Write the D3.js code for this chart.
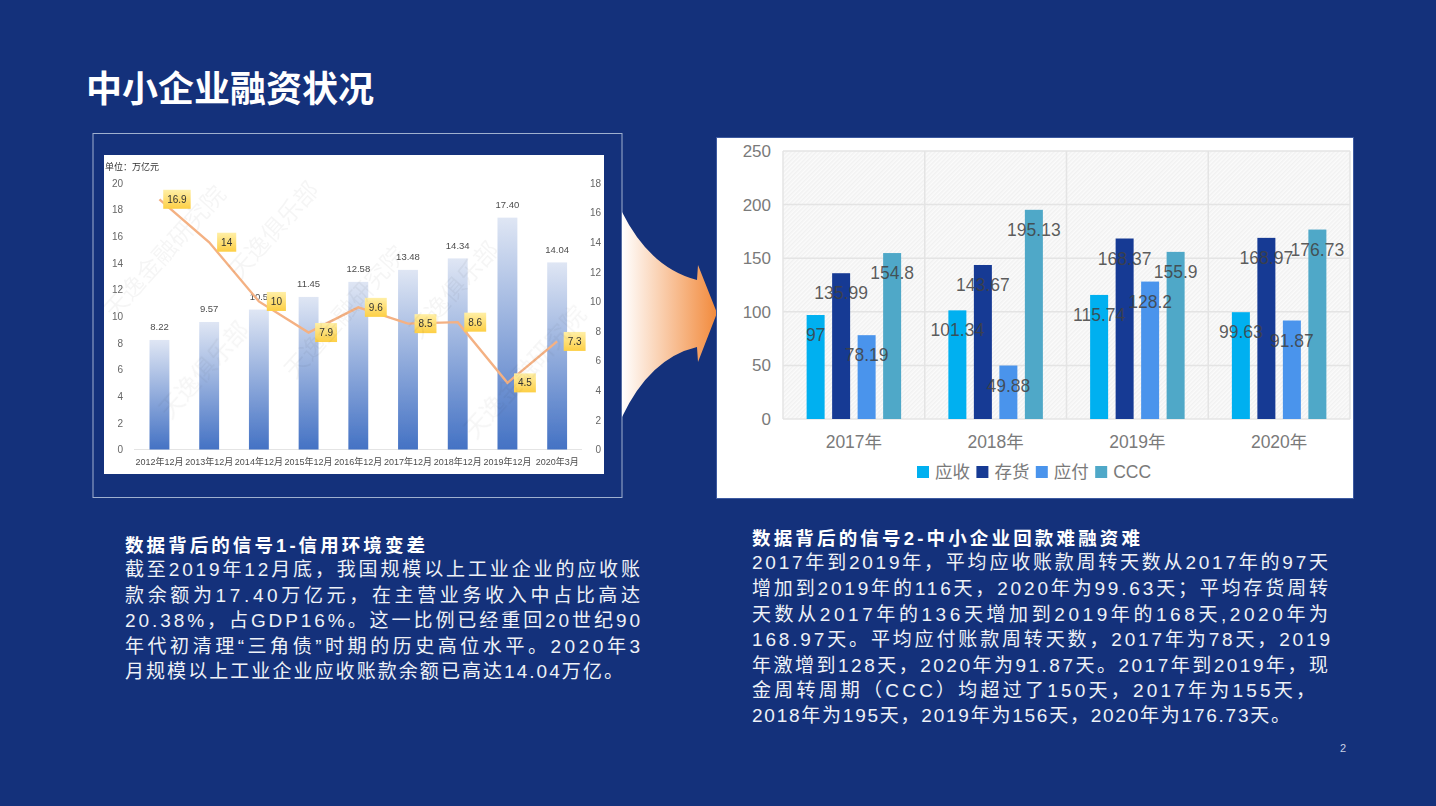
<!DOCTYPE html>
<html>
<head>
<meta charset="utf-8">
<script src="https://cdn.jsdelivr.net/npm/d3@7"></script>
<style>
  html, body { margin: 0; padding: 0; background: #14317b; }
  svg { display: block; }
  text { font-family: "Liberation Sans", "Noto Sans CJK SC", sans-serif; }
  .cjk { font-family: "Noto Sans CJK SC", sans-serif; }
  .domain { display: none; }
</style>
</head>
<body>
<svg id="chart" width="1436" height="806"></svg>
<script>
// Left chart data
var months = ["2012年12月", "2013年12月", "2014年12月", "2015年12月", "2016年12月", "2017年12月", "2018年12月", "2019年12月", "2020年3月"];
var balance = [8.22, 9.57, 10.5, 11.45, 12.58, 13.48, 14.34, 17.40, 14.04];
var balanceLabels = ["8.22", "9.57", "10.5", "11.45", "12.58", "13.48", "14.34", "17.40", "14.04"];
var ratio = [16.9, 14, 10, 7.9, 9.6, 8.5, 8.6, 4.5, 7.3];
var leftTicks = [0, 2, 4, 6, 8, 10, 12, 14, 16, 18, 20];
var rightTicks = [0, 2, 4, 6, 8, 10, 12, 14, 16, 18];

// Right chart data
var years = ["2017年", "2018年", "2019年", "2020年"];
var seriesNames = ["应收", "存货", "应付", "CCC"];
var receivable = [97, 101.34, 115.74, 99.63];
var inventory = [135.99, 143.67, 168.37, 168.97];
var payable = [78.19, 49.88, 128.2, 91.87];
var ccc = [154.8, 195.13, 155.9, 176.73];
var dayTicks = [0, 50, 100, 150, 200, 250];

// Slide text
var leftHeading = "数据背后的信号1-信用环境变差";
var leftLines = [
  "截至2019年12月底，我国规模以上工业企业的应收账",
  "款余额为17.40万亿元，在主营业务收入中占比高达",
  "20.38%，占GDP16%。这一比例已经重回20世纪90",
  "年代初清理“三角债”时期的历史高位水平。2020年3",
  "月规模以上工业企业应收账款余额已高达14.04万亿。"
];
var rightHeading = "数据背后的信号2-中小企业回款难融资难";
var rightLines = [
  "2017年到2019年，平均应收账款周转天数从2017年的97天",
  "增加到2019年的116天，2020年为99.63天；平均存货周转",
  "天数从2017年的136天增加到2019年的168天,2020年为",
  "168.97天。平均应付账款周转天数，2017年为78天，2019",
  "年激增到128天，2020年为91.87天。2017年到2019年，现",
  "金周转周期（CCC）均超过了150天，2017年为155天，",
  "2018年为195天，2019年为156天，2020年为176.73天。"
];

var svg = d3.select("#chart");
var defs = svg.append("defs");

svg.append("rect").attr("width", 1436).attr("height", 806).attr("fill", "#14317b");

svg.append("text")
  .attr("class", "cjk")
  .attr("x", 86).attr("y", 102)
  .attr("font-size", 36).attr("font-weight", 700)
  .attr("fill", "#fff")
  .text("中小企业融资状况");

/* gradients, hatch */
var barGrad = defs.append("linearGradient").attr("id", "barGrad")
  .attr("x1", 0).attr("y1", 0).attr("x2", 0).attr("y2", 1);
barGrad.append("stop").attr("offset", "0%").attr("stop-color", "#dfe6f4");
barGrad.append("stop").attr("offset", "100%").attr("stop-color", "#4472c4");

var tagGrad = defs.append("linearGradient").attr("id", "tagGrad")
  .attr("x1", 0).attr("y1", 0).attr("x2", 0).attr("y2", 1);
tagGrad.append("stop").attr("offset", "0%").attr("stop-color", "#ffefa6");
tagGrad.append("stop").attr("offset", "100%").attr("stop-color", "#fdcf45");

var arrowGrad = defs.append("linearGradient").attr("id", "arrowGrad");
arrowGrad.append("stop").attr("offset", "0%").attr("stop-color", "#ffffff");
arrowGrad.append("stop").attr("offset", "100%").attr("stop-color", "#f28a3c");

var hatch = defs.append("pattern").attr("id", "hatch")
  .attr("width", 3).attr("height", 3)
  .attr("patternUnits", "userSpaceOnUse")
  .attr("patternTransform", "rotate(45)");
hatch.append("rect").attr("width", 3).attr("height", 3).attr("fill", "#fbfbfb");
hatch.append("rect").attr("width", 1.5).attr("height", 3).attr("fill", "#f1f1f1");

defs.append("filter").attr("id", "soft")
  .append("feGaussianBlur").attr("stdDeviation", 0.45);

/*
  LEFT CHART: bars on the left axis, line on the right axis
*/
svg.append("rect")
  .attr("x", 93).attr("y", 133.5).attr("width", 529).attr("height", 364)
  .attr("fill", "none").attr("stroke", "#9fb0cf").attr("stroke-width", 1);

var left = svg.append("g").attr("filter", "url(#soft)");

left.append("rect")
  .attr("x", 104).attr("y", 155).attr("width", 500).attr("height", 319)
  .attr("fill", "#fff");

var xMonth = d3.scaleBand().domain(months).range([134.6, 582])
  .paddingInner(0.6).paddingOuter(0.3);
var yBalance = d3.scaleLinear().domain([0, 20]).range([449.5, 183]);
var yRatio = d3.scaleLinear().domain([0, 18]).range([449.5, 183]);

left.append("line")
  .attr("x1", 134).attr("x2", 582)
  .attr("y1", yBalance(0)).attr("y2", yBalance(0))
  .attr("stroke", "#e4e4e4");

left.append("g")
  .attr("transform", "translate(123,0)")
  .call(d3.axisLeft(yBalance).tickValues(leftTicks).tickSize(0).tickPadding(0))
  .selectAll("text")
    .attr("font-size", 10).attr("fill", "#666")
    .style("font-family", "Liberation Sans");

left.append("g")
  .attr("transform", "translate(601,0)")
  .call(d3.axisLeft(yRatio).tickValues(rightTicks).tickSize(0).tickPadding(0))
  .selectAll("text")
    .attr("font-size", 10).attr("fill", "#666")
    .style("font-family", "Liberation Sans");

left.append("g")
  .attr("transform", "translate(0,455)")
  .call(d3.axisBottom(xMonth).tickSize(0).tickPadding(4))
  .selectAll("text")
    .attr("font-size", 9).attr("fill", "#4d4d4d")
    .style("font-family", "Liberation Sans, Noto Sans CJK SC");

left.append("text")
  .attr("class", "cjk")
  .attr("x", 105).attr("y", 170)
  .attr("font-size", 9).attr("fill", "#333")
  .text("单位：万亿元");

left.selectAll("rect.bar")
  .data(balance)
  .enter().append("rect")
    .attr("class", "bar")
    .attr("x", function(d, i) { return xMonth(months[i]); })
    .attr("y", function(d) { return yBalance(d); })
    .attr("width", xMonth.bandwidth())
    .attr("height", function(d) { return yBalance(0) - yBalance(d); })
    .attr("fill", "url(#barGrad)");

left.selectAll("text.barLabel")
  .data(balance)
  .enter().append("text")
    .attr("class", "barLabel")
    .attr("x", function(d, i) { return xMonth(months[i]) + xMonth.bandwidth() / 2; })
    .attr("y", function(d) { return yBalance(d) - 9.5; })
    .attr("text-anchor", "middle")
    .attr("font-size", 9.5).attr("fill", "#4d4d4d")
    .text(function(d, i) { return balanceLabels[i]; });

var ratioLine = d3.line()
  .x(function(d, i) { return xMonth(months[i]) + xMonth.bandwidth() / 2; })
  .y(function(d) { return yRatio(d); });

left.append("path")
  .datum(ratio)
  .attr("d", ratioLine)
  .attr("fill", "none")
  .attr("stroke", "#f4b183")
  .attr("stroke-width", 2.4);

// Yellow tags sit to the right of each line point
var tag = left.selectAll("g.tag")
  .data(ratio)
  .enter().append("g")
    .attr("class", "tag")
    .attr("transform", function(d, i) {
      return "translate(" + (xMonth(months[i]) + xMonth.bandwidth() / 2 + 17.5) + "," + yRatio(d) + ")";
    });
tag.append("text")
  .attr("text-anchor", "middle")
  .attr("dy", "0.35em")
  .attr("font-size", 10).attr("fill", "#333")
  .text(function(d) { return d; });
tag.each(function() {
  var g = d3.select(this);
  var w = g.select("text").node().getComputedTextLength() + 8;
  g.insert("rect", "text")
    .attr("x", -w / 2).attr("y", -9.5)
    .attr("width", w).attr("height", 19)
    .attr("fill", "url(#tagGrad)");
});

// Watermark over the picture, only the ones that fit inside it
var marks = left.append("g");
var markNames = ["天逸俱乐部", "天逸金融研究院"];
for (var row = 0; row < 7; row++) {
  for (var col = 0; col < 7; col++) {
    var name = markNames[(row + col) % 2];
    var len = name.length * 24;
    var mx = 60 + col * 125 + row * 55;
    var my = 220 + row * 100 - col * 40;
    if (mx < 108 || my > 470 || mx + len * 0.67 > 600 || my - len * 0.74 < 158) continue;
    marks.append("text")
      .attr("class", "cjk")
      .attr("transform", "translate(" + mx + "," + my + ") rotate(-48)")
      .attr("font-size", 24)
      .attr("fill", "#000").attr("fill-opacity", 0.04)
      .text(name);
  }
}

/*
  ARROW between the two charts
*/
var arrowPath = d3.path();
arrowPath.moveTo(622, 212);
arrowPath.quadraticCurveTo(650, 268, 697, 280);
arrowPath.lineTo(698, 265);
arrowPath.lineTo(717, 313);
arrowPath.lineTo(698, 362);
arrowPath.lineTo(697, 347);
arrowPath.quadraticCurveTo(650, 358, 622, 417);
arrowPath.closePath();
svg.append("path").attr("d", arrowPath.toString()).attr("fill", "url(#arrowGrad)");

/*
  RIGHT CHART: grouped bars
*/
svg.append("rect")
  .attr("x", 716.5).attr("y", 137.5).attr("width", 637).attr("height", 361)
  .attr("fill", "#fff").attr("stroke", "#3d5aa0").attr("stroke-width", 1);

var plot = {left: 783, right: 1350, top: 151, bottom: 419};
var xYear = d3.scaleBand().domain(years).range([plot.left, plot.right]);
var xSeries = d3.scaleBand().domain(seriesNames)
  .range([xYear.bandwidth() / 2 - 51, xYear.bandwidth() / 2 + 51])
  .paddingInner(0.294).paddingOuter(0.147);
var yDays = d3.scaleLinear().domain([0, 250]).range([plot.bottom, plot.top]);
var seriesColors = d3.scaleOrdinal().domain(seriesNames)
  .range(["#00b0f0", "#163a94", "#4a94ec", "#4fa8c8"]);
var seriesValues = [receivable, inventory, payable, ccc];

svg.append("rect")
  .attr("x", plot.left).attr("y", plot.top)
  .attr("width", plot.right - plot.left).attr("height", plot.bottom - plot.top)
  .attr("fill", "url(#hatch)");

// Gridlines, horizontal and between the categories
svg.selectAll("line.hgrid")
  .data(dayTicks)
  .enter().append("line")
    .attr("class", "hgrid")
    .attr("x1", plot.left).attr("x2", plot.right)
    .attr("y1", function(d) { return yDays(d); })
    .attr("y2", function(d) { return yDays(d); })
    .attr("stroke", "#e4e4e4").attr("stroke-width", 1.5);
svg.selectAll("line.vgrid")
  .data(years.concat(["end"]))
  .enter().append("line")
    .attr("class", "vgrid")
    .attr("x1", function(d, i) { return plot.left + i * xYear.step(); })
    .attr("x2", function(d, i) { return plot.left + i * xYear.step(); })
    .attr("y1", plot.top).attr("y2", plot.bottom)
    .attr("stroke", "#e4e4e4").attr("stroke-width", 1.5);

svg.append("g")
  .attr("transform", "translate(771,0)")
  .call(d3.axisLeft(yDays).tickValues(dayTicks).tickSize(0).tickPadding(0))
  .selectAll("text")
    .attr("font-size", 17).attr("fill", "#7a7a7a")
    .style("font-family", "Liberation Sans");

svg.append("g")
  .attr("transform", "translate(0," + (plot.bottom + 11) + ")")
  .call(d3.axisBottom(xYear).tickSize(0).tickPadding(6))
  .selectAll("text")
    .attr("font-size", 17.5).attr("fill", "#7a7a7a")
    .style("font-family", "Liberation Sans, Noto Sans CJK SC");

var group = svg.selectAll("g.series")
  .data(seriesNames)
  .enter().append("g")
    .attr("class", "series");

group.selectAll("rect")
  .data(function(name, s) {
    return seriesValues[s].map(function(v, i) { return {name: name, year: years[i], value: v}; });
  })
  .enter().append("rect")
    .attr("x", function(d) { return xYear(d.year) + xSeries(d.name); })
    .attr("y", function(d) { return yDays(d.value); })
    .attr("width", xSeries.bandwidth())
    .attr("height", function(d) { return yDays(0) - yDays(d.value); })
    .attr("fill", function(d) { return seriesColors(d.name); });

// Labels drawn after all bars, they run across the neighbours
var valueLabels = svg.append("g");
seriesNames.forEach(function(name, s) {
  seriesValues[s].forEach(function(v, i) {
    valueLabels.append("text")
      .attr("x", xYear(years[i]) + xSeries(name) + xSeries.bandwidth() / 2)
      .attr("y", yDays(v) + 20)
      .attr("dy", "0.35em")
      .attr("text-anchor", "middle")
      .attr("font-size", 17.5)
      .attr("fill", "#404040").attr("fill-opacity", 0.85)
      .text(v);
  });
});

var legend = svg.selectAll("g.legend")
  .data(seriesNames)
  .enter().append("g")
    .attr("class", "legend")
    .attr("transform", function(d, i) { return "translate(" + (917 + i * 59.4) + ",466)"; });
legend.append("rect")
  .attr("width", 12).attr("height", 12)
  .attr("fill", function(d) { return seriesColors(d); });
legend.append("text")
  .attr("x", 18).attr("y", 6).attr("dy", "0.35em")
  .attr("font-size", 17.5).attr("fill", "#7a7a7a")
  .text(function(d) { return d; });

/*
  BODY TEXT: every line is stretched to its width like the justified original
*/
function textBlock(x, heading, headingWidth, lines, widths, ys) {
  svg.append("text")
    .attr("x", x).attr("y", ys[0])
    .attr("font-size", 18.5).attr("font-weight", 700)
    .attr("fill", "#fff")
    .attr("textLength", headingWidth).attr("lengthAdjust", "spacing")
    .text(heading);
  lines.forEach(function(line, i) {
    svg.append("text")
      .attr("x", x).attr("y", ys[i + 1])
      .attr("font-size", 19)
      .attr("fill", "#eef1f7")
      .attr("textLength", widths[i]).attr("lengthAdjust", "spacing")
      .text(line);
  });
}

textBlock(125, leftHeading, 300, leftLines,
  [515, 515, 515, 515, 498],
  [552, 576, 602, 627, 653, 678]);
textBlock(752, rightHeading, 388, rightLines,
  [576, 576, 576, 578, 576, 563, 538],
  [545, 569, 595, 621, 646, 672, 697, 722]);

svg.append("text")
  .attr("x", 1343).attr("y", 752)
  .attr("text-anchor", "middle")
  .attr("font-size", 11).attr("fill", "#c9d2e6")
  .text("2");
</script>
</body>
</html>
